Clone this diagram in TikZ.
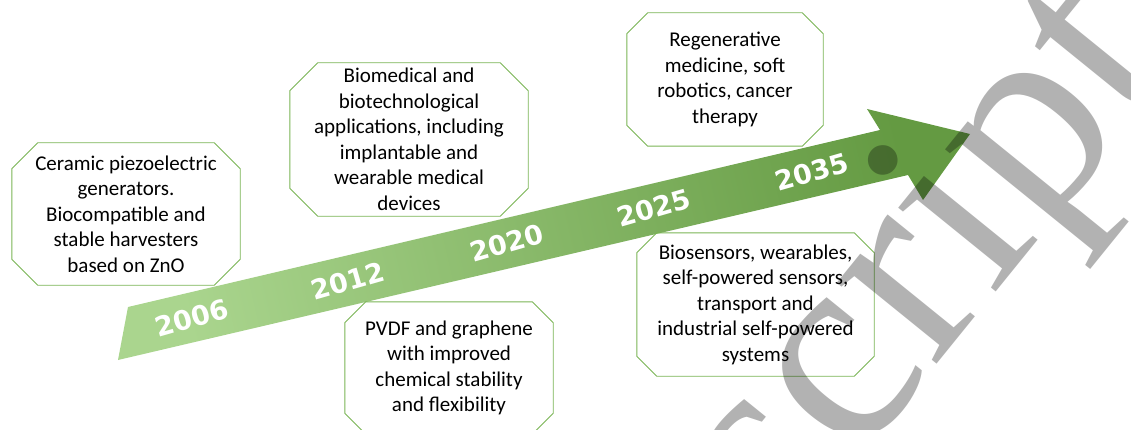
\documentclass[tikz,border=0pt]{standalone}
\usepackage{fontspec}
\setmainfont{Carlito}
\newfontfamily\anofont{DejaVu Sans}
\newfontfamily\marcafont{Liberation Serif}
\definecolor{verdeclaro}{RGB}{170,213,142}
\definecolor{verdeescuro}{RGB}{100,154,66}
\definecolor{borda}{RGB}{122,180,84}
\tikzset{
  caixa/.style={rectangle, align=center, inner sep=0pt, font=\fontsize{21}{25.5}\selectfont},
  ano/.style={text=white, rotate=16, font=\anofont\bfseries\fontsize{27}{27}\selectfont},
}
%octogono: #1 nome do no, #2 corte dos cantos
\newcommand{\octogono}[2]{%
  \draw[borda, line width=0.9pt] ([yshift=-#2]#1.north west) -- ([xshift=#2]#1.north west)
    -- ([xshift=-#2]#1.north east) -- ([yshift=-#2]#1.north east)
    -- ([yshift=#2]#1.south east) -- ([xshift=-#2]#1.south east)
    -- ([xshift=#2]#1.south west) -- ([yshift=#2]#1.south west) -- cycle;}
\begin{document}
\begin{tikzpicture}[x=1pt,y=1pt] %Início do desenho
	\useasboundingbox (0,0) rectangle (1131,429);
	\clip (0,0) rectangle (1131,429);
		%Seta
	\shade[left color=verdeclaro, right color=verdeescuro, shading angle=103]
		(118,69) -- (128,122) -- (880,299) -- (867,320) -- (970,295) -- (923,229) -- (908,254) -- cycle;
		%Anos
	\node[ano] (a2006) at (192,111) {2006};
	\node[ano] (a2012) at (348,148) {2012};
	\node[ano] (a2020) at (507,186) {2020};
	\node[ano] (a2025) at (654,221) {2025};
	\node[ano] (a2035) at (812,257) {2035};
		%Caixas
	\node[caixa, minimum width=228pt, minimum height=142pt] (ceramica) at (126,215)
		{Ceramic piezoelectric\\generators.\\Biocompatible and\\stable harvesters\\based on ZnO};
	\node[caixa, minimum width=238pt, minimum height=153pt] (biomedica) at (409,289.5)
		{Biomedical and\\biotechnological\\applications, including\\implantable and\\wearable medical\\devices};
	\node[caixa, minimum width=196pt, minimum height=133pt] (regenerativa) at (725,349.5)
		{Regenerative\\medicine, soft\\robotics, cancer\\therapy};
	\node[caixa, minimum width=237pt, minimum height=143pt] (biosensores) at (755.5,124.5)
		{Biosensors, wearables,\\self-powered sensors,\\transport and\\industrial self-powered\\systems};
	\node[caixa, minimum width=208pt, minimum height=132pt] (pvdf) at (449,61)
		{PVDF and graphene\\with improved\\chemical stability\\and flexibility};
	\octogono{ceramica}{26pt}
	\octogono{biomedica}{28pt}
	\octogono{regenerativa}{21pt}
	\octogono{biosensores}{20pt}
	\octogono{pvdf}{21pt}
		%Marca d'água
	\node[rotate=51, anchor=base west, text=black, text opacity=0.3, inner sep=0pt,
		font=\marcafont\fontsize{280}{280}\selectfont] (marca) at (787,-121) {script};
\end{tikzpicture}
\end{document}
